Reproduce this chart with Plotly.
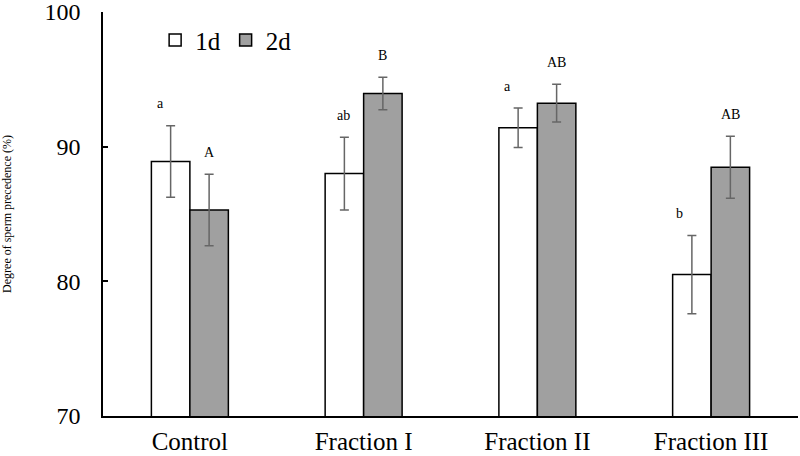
import plotly.graph_objects as go

categories = ["Control", "Fraction I", "Fraction II", "Fraction III"]
values_1d = [88.9, 88.0, 91.4, 80.5]
errors_1d = [2.65, 2.7, 1.47, 2.9]
values_2d = [85.3, 93.95, 93.23, 88.47]
errors_2d = [2.66, 1.2, 1.4, 2.3]
letters_1d = ["a", "ab", "a", "b"]
letters_2d = ["A", "B", "AB", "AB"]
y_ticks = [70, 80, 90, 100]

# style only: small horizontal nudges of the 1d letters
letter_1d_xshift = [-10, -1, -11, -12]

FONT = "Liberation Serif"
BAR_PX = 38.5

fig = go.Figure()
fig.add_trace(go.Bar(
    name="1d", x=categories, y=values_1d,
    marker=dict(color="white", line=dict(color="black", width=1.5)),
    error_y=dict(type="data", array=errors_1d, color="#666666", thickness=1.5, width=4.5),
))
fig.add_trace(go.Bar(
    name="2d", x=categories, y=values_2d,
    marker=dict(color="#a0a0a0", line=dict(color="black", width=1.5)),
    error_y=dict(type="data", array=errors_2d, color="#666666", thickness=1.5, width=4.5),
))

for i, c in enumerate(categories):
    fig.add_annotation(x=c, y=values_1d[i] + errors_1d[i], text=letters_1d[i],
                       showarrow=False, xshift=-BAR_PX / 2 + letter_1d_xshift[i], yshift=22,
                       font=dict(family=FONT, size=14, color="black"))
    fig.add_annotation(x=c, y=values_2d[i] + errors_2d[i], text=letters_2d[i],
                       showarrow=False, xshift=BAR_PX / 2, yshift=22,
                       font=dict(family=FONT, size=14, color="black"))

fig.update_layout(
    width=800, height=456,
    margin=dict(l=103, r=2, t=12, b=40),
    plot_bgcolor="white", paper_bgcolor="white",
    barmode="group", bargap=0.557, bargroupgap=0,
    font=dict(family=FONT, color="black"),
    showlegend=True,
    legend=dict(orientation="h", x=0.075, y=0.93, xanchor="left", yanchor="middle",
                font=dict(family=FONT, size=25), itemwidth=30, bgcolor="rgba(0,0,0,0)"),
    xaxis=dict(showline=True, linecolor="black", linewidth=1.5, ticks="", automargin=False,
               tickfont=dict(family=FONT, size=25), ticklabelstandoff=2),
    yaxis=dict(range=[70, 100], tickvals=y_ticks, showline=True, linecolor="black",
               linewidth=1.5, ticks="inside", ticklen=5, tickcolor="black", tickwidth=1.5,
               showgrid=False, zeroline=False, automargin=False,
               tickfont=dict(family=FONT, size=24), ticklabelstandoff=16,
               ticklabeloverflow="allow",
               title=dict(text="Degree of sperm precedence (%)", font=dict(family=FONT, size=12),
                          standoff=30)),
)

fig.write_html("out.html", config={"displayModeBar": False},
               post_script="document.body.style.margin='0';document.body.style.overflow='hidden';")
